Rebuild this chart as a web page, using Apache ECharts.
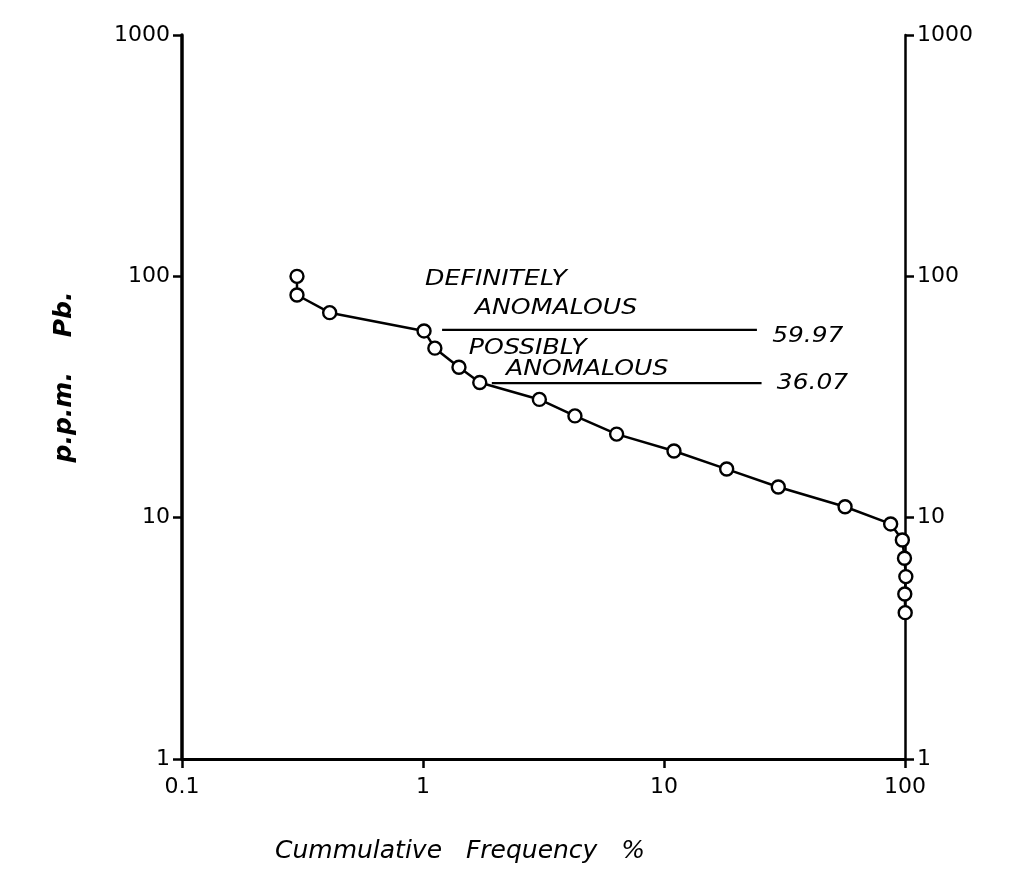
<!DOCTYPE html>
<html>
<head>
<meta charset="utf-8">
<script src="https://cdn.jsdelivr.net/npm/echarts@6/dist/echarts.min.js"></script>
<style>html,body{margin:0;padding:0;background:#fff}#c{width:1035px;height:883px}</style>
</head>
<body>
<div id="c"></div>
<script>
// Cumulative frequency (%) and ppm Pb
const freqValues = [0.3, 0.3, 0.41, 1.01, 1.12, 1.41, 1.72, 3.04, 4.27, 6.36, 11.0, 18.2, 29.8, 56.4, 87.2, 97.5, 99.5, 100.8, 99.8, 100.2];
const ppmValues  = [100, 83.7, 70.7, 59.4, 50.4, 42.0, 36.3, 30.9, 26.4, 22.2, 18.9, 15.9, 13.4, 11.1, 9.42, 8.08, 6.79, 5.70, 4.83, 4.04];
const xTickLabels = ['0.1', '1', '10', '100'];
const yTickLabels = ['1', '10', '100', '1000'];
const thresholds = [59.97, 36.07];
const thresholdStart = [1.2, 1.93];
const thresholdEnd = [24.3, 25.4];
const thresholdLabels = ['59.97', '36.07'];
const thresholdLabelX = [28.1, 29.4];
const thresholdLabelY = [56.2, 36.07];
const noteTexts = ['DEFINITELY', 'ANOMALOUS', 'POSSIBLY', 'ANOMALOUS'];
const noteX = [1.02, 1.64, 1.55, 2.21];
const noteY = [96.7, 73.8, 50.4, 40.9];
const xTitle = 'Cummulative   Frequency   %';
const yTitle = 'p.p.m.    Pb.';

const chart = echarts.init(document.getElementById('c'));
const FONT = 'DejaVu Sans';
const fmt = v => String(+v.toPrecision(3));

const series = [{
  type: 'line',
  data: freqValues.map((x, i) => [x, ppmValues[i]]),
  symbol: 'circle', symbolSize: 13,
  itemStyle: { color: '#fff', borderColor: '#000', borderWidth: 2.4 },
  lineStyle: { color: '#000', width: 2.5 },
  clip: false, z: 3, silent: true
}];
thresholds.forEach((t, i) => {
  series.push({
    type: 'line',
    data: [[thresholdStart[i], t], [thresholdEnd[i], t]],
    symbol: 'none', lineStyle: { color: '#000', width: 2.2 }, silent: true, z: 2
  });
});

const yAxisBase = {
  type: 'log', logBase: 10, min: 1, max: 1000,
  splitLine: { show: false }, minorTick: { show: false },
  axisTick: { show: true, length: 9, lineStyle: { color: '#000', width: 2.5 } },
  axisLabel: { fontFamily: FONT, fontSize: 22, color: '#000', margin: 12,
    formatter: v => yTickLabels.indexOf(fmt(v)) >= 0 ? fmt(v) : '' }
};

chart.setOption({
  animation: false,
  backgroundColor: '#fff',
  grid: { left: 182, right: 130, top: 35, bottom: 124 },
  xAxis: {
    type: 'log', logBase: 10, min: 0.1, max: 100,
    axisLine: { lineStyle: { color: '#000', width: 3 } },
    axisTick: { show: true, length: 9, lineStyle: { color: '#000', width: 2.5 } },
    splitLine: { show: false }, minorTick: { show: false },
    axisLabel: { fontFamily: FONT, fontSize: 22, color: '#000', margin: 17,
      formatter: v => xTickLabels.indexOf(fmt(v)) >= 0 ? fmt(v) : '' }
  },
  yAxis: [
    Object.assign({}, yAxisBase, {
      position: 'left',
      axisLine: { show: true, lineStyle: { color: '#000', width: 3.5 } }
    }),
    Object.assign({}, yAxisBase, {
      position: 'right',
      axisLine: { show: true, lineStyle: { color: '#000', width: 2.5 } }
    })
  ],
  series: series
});

// Annotation text placed at data coordinates
const graphics = [];
const addText = (text, x, y, size, sx) => {
  const p = chart.convertToPixel({ gridIndex: 0 }, [x, y]);
  graphics.push({
    type: 'text', x: p[0], y: p[1], scaleX: sx, silent: true, z: 10,
    style: { text: text, font: 'italic ' + size + 'px "' + FONT + '"', fill: '#000',
      textAlign: 'left', textVerticalAlign: 'middle' }
  });
};
noteTexts.forEach((t, i) => addText(t, noteX[i], noteY[i], 21, 1.2));
thresholdLabels.forEach((t, i) => addText(t, thresholdLabelX[i], thresholdLabelY[i], 22, 1.13));
graphics.push({
  type: 'text', x: 460, y: 851, silent: true,
  style: { text: xTitle, font: 'italic 25px "' + FONT + '"', fill: '#000', textAlign: 'center', textVerticalAlign: 'middle' }
});
graphics.push({
  type: 'text', x: 64, y: 377, rotation: Math.PI / 2, silent: true,
  style: { text: yTitle, font: 'italic bold 25px "' + FONT + '"', fill: '#000', textAlign: 'center', textVerticalAlign: 'middle' }
});
chart.setOption({ graphic: graphics });
</script>
</body>
</html>
